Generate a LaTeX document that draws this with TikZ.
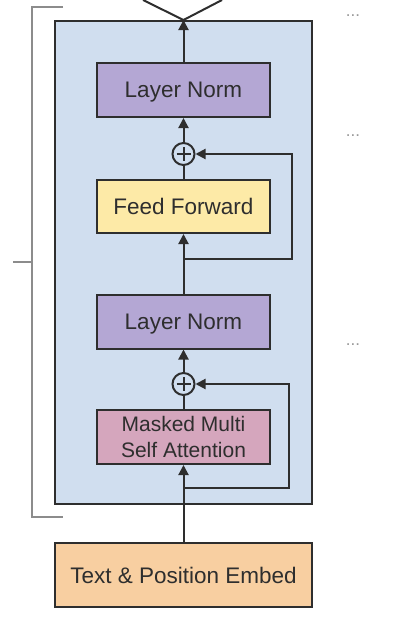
\documentclass[tikz,border=0pt]{standalone}
\usepackage{fontspec}
\setmainfont{Liberation Sans}
\usetikzlibrary{arrows.meta}
\definecolor{blockblue}{HTML}{D0DEEF}
\definecolor{normpurple}{HTML}{B4A7D4}
\definecolor{ffyellow}{HTML}{FDEAA7}
\definecolor{attnpink}{HTML}{D5A6BD}
\definecolor{embedorange}{HTML}{F8CFA1}
\definecolor{linegray}{HTML}{2E2E2E}
\begin{document}
\begin{tikzpicture}[
        x=1pt, y=-1pt,
        every node/.style={font=\fontsize{22.5pt}{26pt}\selectfont, text=linegray},
        box/.style={draw=linegray, line width=2pt, minimum width=173pt, minimum height=54pt, inner sep=0pt, text depth=0pt},
        addnode/.style={circle, draw=linegray, line width=2pt, minimum size=22pt, inner sep=0pt,
            path picture={
                \draw[line width=2pt] ([yshift=-4pt]path picture bounding box.north) -- ([yshift=4pt]path picture bounding box.south);
                \draw[line width=2pt] ([xshift=4pt]path picture bounding box.west) -- ([xshift=-4pt]path picture bounding box.east);
            }},
        flow/.style={draw=linegray, line width=2pt},
        arrow/.style={flow, -{Triangle[length=10pt, width=10pt]}},
        dots/.style={font=\fontsize{17pt}{17pt}\selectfont, text=gray!80, anchor=base}
    ]
    \useasboundingbox (0,0) rectangle (403,622);
    \node[box, fill=blockblue, minimum width=257pt, minimum height=483pt] (block) at (183.5,262.5) {};
    \draw[gray!90, line width=2pt] (63,7) -- (32,7) -- (32,517) -- (63,517);
    \draw[gray!90, line width=2pt] (13,262) -- (32,262);
    \node[box, fill=normpurple] (norm2) at (183.5,90) {Layer Norm};
    \node[addnode] (add2) at (183.5,154) {};
    \node[box, fill=ffyellow, minimum height=53pt] (ff) at (183.5,206.5) {Feed Forward};
    \node[box, fill=normpurple] (norm1) at (183.5,321.5) {Layer Norm};
    \node[addnode] (add1) at (183.5,384) {};
    \node[box, fill=attnpink, align=center, font=\fontsize{21pt}{26pt}\selectfont] (attn) at (183.5,437) {Masked Multi\\Self Attention};
    \node[box, fill=embedorange, minimum width=257pt, minimum height=64pt] (embed) at (183.5,575) {Text \& Position Embed};
    \coordinate (res1) at (183.5,488);
    \coordinate (res1c) at (289,488);
    \coordinate (res2) at (183.5,259);
    \coordinate (res2c) at (292,259);
    \coordinate (outl) at (143,0);
    \coordinate (outr) at (222,0);
    \draw[arrow] (embed.north) -- (attn.south);
    \draw[flow] (attn.north) -- (add1.south);
    \draw[arrow] (add1.north) -- (norm1.south);
    \draw[arrow] (res1) -- (res1c) |- (add1.east);
    \draw[arrow] (norm1.north) -- (ff.south);
    \draw[flow] (ff.north) -- (add2.south);
    \draw[arrow] (add2.north) -- (norm2.south);
    \draw[arrow] (res2) -- (res2c) |- (add2.east);
    \draw[arrow] (norm2.north) -- (block.north);
    \draw[flow] (outl) -- (block.north) -- (outr);
    \node[dots] (dots1) at (353,16) {...};
    \node[dots] (dots2) at (353,136) {...};
    \node[dots] (dots3) at (353,345) {...};
\end{tikzpicture}
\end{document}
